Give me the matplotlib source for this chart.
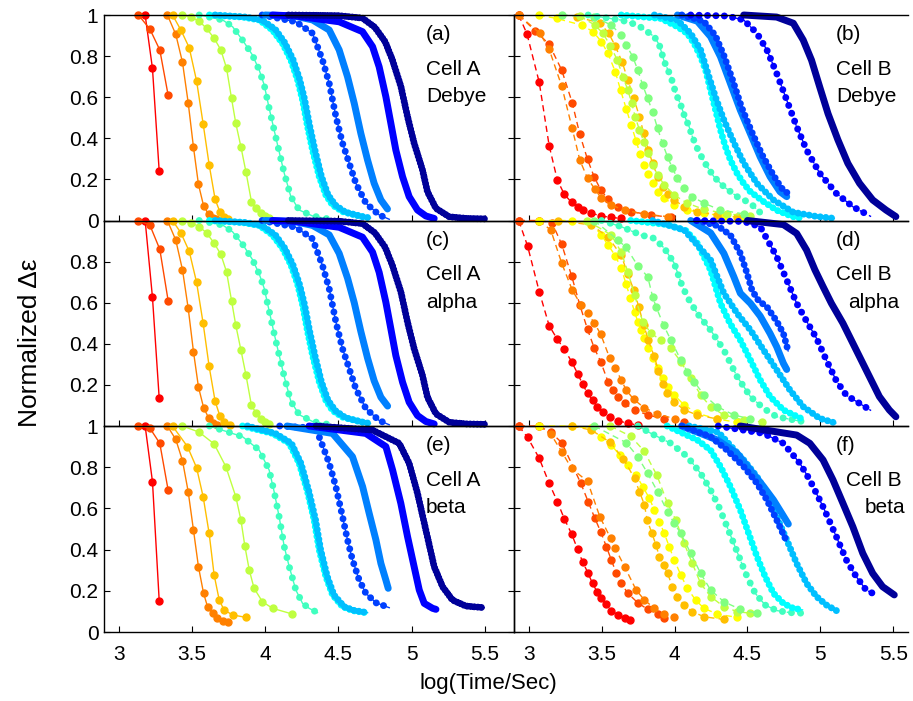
import matplotlib
matplotlib.use("Agg")
import matplotlib.pyplot as plt
from matplotlib.ticker import FuncFormatter

plt.rcParams['font.family'] = ['Liberation Sans', 'DejaVu Sans']

# ---------------- data (log10 time, normalized value) ----------------
# Cell A, Debye
a_x = [
    [3.181, 3.231, 3.277],
    [3.135, 3.213, 3.281, 3.338],
    [3.333, 3.390, 3.436, 3.475, 3.511, 3.545, 3.580, 3.614, 3.645, 3.665],
    [3.368, 3.425, 3.482, 3.532, 3.577, 3.618, 3.659, 3.691, 3.720, 3.750],
    [3.436, 3.493, 3.550, 3.600, 3.652, 3.698, 3.737, 3.771, 3.800, 3.835, 3.869, 3.907, 3.937, 3.970, 4.000, 4.030],
    [3.550, 3.710, 3.778, 3.846, 3.914, 3.960, 3.994, 4.028, 4.062, 4.096, 4.131, 4.176, 4.233, 4.324, 4.430],
    [3.620, 3.846, 3.960, 4.050, 4.119, 4.176, 4.222, 4.256, 4.290, 4.324, 4.370, 4.415, 4.461, 4.530, 4.643, 4.690],
    [3.660, 3.870, 3.980, 4.070, 4.135, 4.190, 4.235, 4.270, 4.305, 4.340, 4.385, 4.430, 4.480, 4.550, 4.670, 4.720],
    [3.980, 4.210, 4.324, 4.392, 4.438, 4.484, 4.529, 4.575, 4.620, 4.689, 4.779, 4.848],
    [4.000, 4.200, 4.324, 4.438, 4.506, 4.563, 4.609, 4.654, 4.700, 4.745, 4.791, 4.836],
    [4.050, 4.210, 4.506, 4.665, 4.734, 4.779, 4.825, 4.859, 4.893, 4.939, 4.984, 5.041, 5.098, 5.155],
    [4.160, 4.500, 4.665, 4.750, 4.820, 4.870, 4.928, 4.973, 5.018, 5.075, 5.109, 5.167, 5.258, 5.380, 5.508],
]
a_y = [
    [1.0, 0.74, 0.24],
    [1.0, 0.932, 0.83, 0.61],
    [1.0, 0.906, 0.77, 0.573, 0.357, 0.176, 0.072, 0.03, 0.01, 0.005],
    [1.0, 0.927, 0.841, 0.68, 0.471, 0.272, 0.103, 0.043, 0.015, 0.005],
    [1.0, 0.99, 0.97, 0.935, 0.887, 0.83, 0.741, 0.594, 0.473, 0.359, 0.238, 0.092, 0.06, 0.035, 0.02, 0.01],
    [1.0, 0.976, 0.943, 0.878, 0.805, 0.732, 0.66, 0.546, 0.44, 0.335, 0.23, 0.116, 0.051, 0.022, 0.008],
    [1.0, 0.99, 0.976, 0.927, 0.862, 0.781, 0.684, 0.586, 0.457, 0.343, 0.213, 0.124, 0.075, 0.043, 0.022, 0.015],
    [1.0, 0.99, 0.975, 0.93, 0.865, 0.785, 0.69, 0.59, 0.46, 0.345, 0.215, 0.125, 0.075, 0.04, 0.018, 0.012],
    [1.0, 0.967, 0.911, 0.781, 0.668, 0.505, 0.376, 0.278, 0.181, 0.084, 0.027, 0.006],
    [1.0, 0.995, 0.976, 0.927, 0.83, 0.70, 0.57, 0.424, 0.294, 0.181, 0.10, 0.056],
    [1.0, 0.995, 0.967, 0.919, 0.846, 0.748, 0.602, 0.473, 0.343, 0.213, 0.116, 0.051, 0.022, 0.01],
    [1.0, 0.997, 0.985, 0.94, 0.87, 0.781, 0.651, 0.505, 0.376, 0.246, 0.14, 0.059, 0.018, 0.01, 0.008],
]

# Cell A, alpha
c_x = [
    [3.181, 3.231, 3.277],
    [3.135, 3.213, 3.281, 3.338],
    [3.333, 3.390, 3.436, 3.475, 3.511, 3.545, 3.580, 3.614, 3.645, 3.670],
    [3.368, 3.425, 3.482, 3.532, 3.577, 3.618, 3.659, 3.691, 3.720, 3.760],
    [3.436, 3.493, 3.550, 3.600, 3.652, 3.698, 3.737, 3.771, 3.800, 3.835, 3.869, 3.907, 3.937, 3.970, 4.000, 4.030],
    [3.550, 3.710, 3.778, 3.846, 3.914, 3.960, 3.994, 4.028, 4.062, 4.096, 4.131, 4.176, 4.233, 4.324, 4.430],
    [3.620, 3.846, 3.960, 4.050, 4.119, 4.176, 4.222, 4.256, 4.290, 4.324, 4.370, 4.415, 4.461, 4.530, 4.643, 4.690],
    [3.660, 3.870, 3.980, 4.070, 4.135, 4.190, 4.235, 4.270, 4.305, 4.340, 4.385, 4.430, 4.480, 4.550, 4.670, 4.720],
    [3.980, 4.210, 4.324, 4.392, 4.438, 4.484, 4.529, 4.575, 4.620, 4.689, 4.779, 4.848],
    [4.000, 4.200, 4.324, 4.438, 4.506, 4.563, 4.609, 4.654, 4.700, 4.745, 4.791, 4.837],
    [4.050, 4.210, 4.506, 4.665, 4.734, 4.779, 4.825, 4.859, 4.893, 4.939, 4.984, 5.041, 5.098, 5.155],
    [4.160, 4.500, 4.665, 4.750, 4.820, 4.870, 4.928, 4.973, 5.018, 5.075, 5.109, 5.167, 5.258, 5.380, 5.508],
]
c_y = [
    [1.0, 0.626, 0.135],
    [1.0, 0.978, 0.86, 0.61],
    [1.0, 0.905, 0.76, 0.573, 0.362, 0.19, 0.09, 0.04, 0.015, 0.005],
    [1.0, 0.94, 0.85, 0.70, 0.50, 0.29, 0.12, 0.05, 0.02, 0.005],
    [1.0, 0.99, 0.97, 0.94, 0.89, 0.835, 0.75, 0.61, 0.49, 0.37, 0.25, 0.10, 0.065, 0.035, 0.02, 0.01],
    [1.0, 0.978, 0.945, 0.885, 0.81, 0.74, 0.67, 0.56, 0.45, 0.345, 0.24, 0.12, 0.055, 0.022, 0.008],
    [1.0, 0.99, 0.976, 0.93, 0.865, 0.785, 0.69, 0.59, 0.46, 0.345, 0.215, 0.125, 0.075, 0.043, 0.022, 0.015],
    [1.0, 0.99, 0.975, 0.93, 0.865, 0.785, 0.69, 0.59, 0.46, 0.345, 0.215, 0.125, 0.075, 0.04, 0.018, 0.012],
    [1.0, 0.967, 0.911, 0.781, 0.668, 0.505, 0.376, 0.278, 0.181, 0.084, 0.027, 0.006],
    [1.0, 0.995, 0.976, 0.93, 0.84, 0.72, 0.60, 0.46, 0.33, 0.22, 0.14, 0.097],
    [1.0, 0.995, 0.967, 0.919, 0.846, 0.748, 0.602, 0.473, 0.343, 0.213, 0.116, 0.051, 0.022, 0.01],
    [1.0, 0.997, 0.985, 0.94, 0.87, 0.781, 0.651, 0.505, 0.376, 0.246, 0.14, 0.059, 0.018, 0.01, 0.008],
]

# Cell A, beta
e_x = [
    [3.181, 3.231, 3.277],
    [3.135, 3.213, 3.281, 3.338],
    [3.333, 3.390, 3.436, 3.475, 3.511, 3.545, 3.580, 3.607, 3.641, 3.675, 3.710, 3.744],
    [3.368, 3.470, 3.532, 3.577, 3.618, 3.652, 3.687, 3.720, 3.778, 3.869],
    [3.436, 3.550, 3.652, 3.732, 3.800, 3.835, 3.862, 3.892, 3.925, 3.982, 4.051, 4.187],
    [3.620, 3.846, 3.960, 4.028, 4.062, 4.096, 4.131, 4.165, 4.210, 4.256, 4.301, 4.358],
    [3.846, 4.051, 4.165, 4.233, 4.290, 4.335, 4.370, 4.415, 4.461, 4.529, 4.597, 4.688],
    [3.880, 4.070, 4.180, 4.245, 4.300, 4.345, 4.380, 4.425, 4.470, 4.540, 4.610, 4.700],
    [4.100, 4.347, 4.438, 4.483, 4.529, 4.563, 4.597, 4.643, 4.688, 4.757, 4.848],
    [4.150, 4.461, 4.597, 4.666, 4.711, 4.757, 4.791, 4.825, 4.841],
    [4.300, 4.688, 4.825, 4.871, 4.927, 4.973, 5.018, 5.053, 5.087, 5.144, 5.167],
    [4.350, 4.734, 4.916, 4.984, 5.041, 5.098, 5.155, 5.212, 5.280, 5.371, 5.496],
]
e_y = [
    [1.0, 0.73, 0.152],
    [1.0, 0.99, 0.916, 0.689],
    [1.0, 0.935, 0.832, 0.681, 0.495, 0.317, 0.188, 0.123, 0.091, 0.066, 0.053, 0.047],
    [1.0, 0.90, 0.798, 0.657, 0.479, 0.277, 0.155, 0.107, 0.083, 0.071],
    [1.0, 0.97, 0.913, 0.803, 0.657, 0.544, 0.417, 0.301, 0.212, 0.147, 0.115, 0.087],
    [1.0, 0.948, 0.883, 0.786, 0.681, 0.56, 0.414, 0.317, 0.204, 0.139, 0.115, 0.094],
    [1.0, 0.964, 0.916, 0.819, 0.681, 0.544, 0.398, 0.269, 0.18, 0.123, 0.104, 0.094],
    [1.0, 0.964, 0.916, 0.819, 0.681, 0.544, 0.398, 0.269, 0.18, 0.123, 0.104, 0.094],
    [1.0, 0.99, 0.819, 0.706, 0.56, 0.447, 0.35, 0.252, 0.188, 0.142, 0.118],
    [1.0, 0.964, 0.851, 0.706, 0.576, 0.447, 0.333, 0.252, 0.212],
    [1.0, 0.964, 0.90, 0.786, 0.625, 0.463, 0.317, 0.204, 0.139, 0.115, 0.11],
    [1.0, 0.98, 0.916, 0.819, 0.673, 0.495, 0.317, 0.22, 0.155, 0.126, 0.118],
]

# Cell B, Debye
b_x = [
    [2.932, 2.989, 3.073, 3.141, 3.197, 3.245, 3.295, 3.340, 3.374, 3.431, 3.499, 3.567, 3.635],
    [2.932, 3.045, 3.141, 3.227, 3.299, 3.351, 3.404, 3.449, 3.495, 3.545, 3.612, 3.703, 3.839, 3.975],
    [2.932, 3.079, 3.141, 3.227, 3.299, 3.351, 3.404, 3.454, 3.499, 3.567, 3.658, 3.794, 3.952],
    [3.068, 3.193, 3.363, 3.442, 3.499, 3.544, 3.594, 3.630, 3.669, 3.703, 3.737, 3.764, 3.794, 3.821, 3.850, 3.884, 3.930, 3.998, 4.088, 4.202, 4.338, 4.474],
    [3.330, 3.488, 3.549, 3.594, 3.642, 3.680, 3.721, 3.760, 3.789, 3.821, 3.850, 3.884, 3.918, 3.952, 3.998, 4.066, 4.156, 4.293, 4.429],
    [3.350, 3.454, 3.510, 3.560, 3.608, 3.646, 3.680, 3.707, 3.730, 3.760, 3.789, 3.816, 3.850, 3.884, 3.930, 3.998, 4.088, 4.202, 4.360, 4.520],
    [3.227, 3.450, 3.567, 3.635, 3.669, 3.714, 3.748, 3.782, 3.816, 3.850, 3.884, 3.918, 3.952, 3.986, 4.020, 4.066, 4.122, 4.202, 4.315, 4.474],
    [3.408, 3.635, 3.748, 3.805, 3.862, 3.896, 3.930, 3.975, 4.009, 4.043, 4.066, 4.100, 4.122, 4.156, 4.190, 4.224, 4.270, 4.338, 4.429, 4.520, 4.600],
    [3.635, 3.907, 4.020, 4.088, 4.134, 4.179, 4.213, 4.247, 4.281, 4.315, 4.349, 4.383, 4.429, 4.474, 4.520, 4.610, 4.700, 4.810, 4.880],
    [3.862, 4.020, 4.111, 4.179, 4.236, 4.281, 4.338, 4.406, 4.474, 4.565, 4.678, 4.814, 4.970, 5.100],
    [4.020, 4.156, 4.247, 4.315, 4.383, 4.451, 4.519, 4.587, 4.655, 4.723, 4.769],
    [4.050, 4.200, 4.280, 4.340, 4.400, 4.460, 4.530, 4.600, 4.670, 4.730, 4.780],
    [4.111, 4.360, 4.474, 4.565, 4.633, 4.700, 4.769, 4.837, 4.905, 4.995, 5.109, 5.222, 5.347],
    [4.474, 4.700, 4.814, 4.882, 4.939, 4.995, 5.052, 5.120, 5.188, 5.268, 5.358, 5.449, 5.517],
]
b_y = [
    [1.0, 0.908, 0.672, 0.364, 0.197, 0.127, 0.088, 0.067, 0.051, 0.035, 0.022, 0.015, 0.01],
    [1.0, 0.924, 0.857, 0.732, 0.573, 0.419, 0.297, 0.213, 0.148, 0.103, 0.067, 0.043, 0.027, 0.015],
    [1.0, 0.91, 0.833, 0.654, 0.448, 0.294, 0.205, 0.153, 0.108, 0.075, 0.05, 0.031, 0.019],
    [1.0, 0.983, 0.951, 0.919, 0.87, 0.813, 0.724, 0.635, 0.544, 0.465, 0.387, 0.324, 0.27, 0.226, 0.181, 0.14, 0.108, 0.075, 0.051, 0.035, 0.022, 0.015],
    [0.99, 0.962, 0.911, 0.849, 0.77, 0.684, 0.594, 0.505, 0.424, 0.343, 0.278, 0.213, 0.165, 0.129, 0.1, 0.067, 0.043, 0.027, 0.019],
    [0.995, 0.951, 0.911, 0.85, 0.781, 0.70, 0.635, 0.57, 0.505, 0.44, 0.384, 0.327, 0.27, 0.222, 0.173, 0.124, 0.084, 0.054, 0.032, 0.022],
    [1.0, 0.99, 0.951, 0.902, 0.854, 0.797, 0.732, 0.659, 0.594, 0.529, 0.448, 0.375, 0.31, 0.254, 0.205, 0.157, 0.116, 0.084, 0.051, 0.032],
    [1.0, 0.975, 0.951, 0.923, 0.894, 0.854, 0.773, 0.70, 0.619, 0.562, 0.513, 0.457, 0.408, 0.351, 0.303, 0.262, 0.213, 0.165, 0.116, 0.084, 0.03],
    [1.0, 0.983, 0.943, 0.91, 0.862, 0.797, 0.732, 0.635, 0.538, 0.44, 0.359, 0.294, 0.229, 0.18, 0.14, 0.092, 0.05, 0.019, 0.01],
    [1.0, 0.975, 0.91, 0.83, 0.70, 0.60, 0.49, 0.38, 0.28, 0.18, 0.10, 0.04, 0.02, 0.01],
    [1.0, 0.97, 0.895, 0.797, 0.667, 0.537, 0.424, 0.31, 0.213, 0.14, 0.116],
    [1.0, 0.97, 0.90, 0.80, 0.68, 0.55, 0.43, 0.32, 0.23, 0.16, 0.13],
    [1.0, 0.995, 0.976, 0.911, 0.83, 0.716, 0.586, 0.457, 0.343, 0.23, 0.132, 0.067, 0.019],
    [1.0, 0.99, 0.96, 0.878, 0.78, 0.65, 0.52, 0.392, 0.278, 0.181, 0.10, 0.051, 0.019],
]

# Cell B, alpha
d_x = [
    [2.932, 2.993, 3.073, 3.141, 3.197, 3.245, 3.295, 3.336, 3.370, 3.404, 3.438, 3.472, 3.510, 3.556, 3.612, 3.680, 3.748],
    [2.932, 3.068, 3.160, 3.227, 3.295, 3.351, 3.404, 3.449, 3.494, 3.544, 3.578, 3.612, 3.658, 3.726, 3.816, 3.930, 4.066],
    [3.068, 3.152, 3.227, 3.299, 3.358, 3.404, 3.449, 3.494, 3.556, 3.594, 3.635, 3.669, 3.720, 3.790, 3.880, 4.000],
    [3.068, 3.295, 3.431, 3.499, 3.544, 3.594, 3.635, 3.669, 3.698, 3.726, 3.748, 3.771, 3.794, 3.821, 3.850, 3.884, 3.918, 3.952, 3.998, 4.066, 4.156, 4.293, 4.429],
    [3.200, 3.431, 3.544, 3.635, 3.680, 3.721, 3.755, 3.789, 3.820, 3.860, 3.890, 3.918, 3.950, 3.998, 4.066, 4.156, 4.293],
    [3.400, 3.567, 3.635, 3.680, 3.726, 3.782, 3.839, 3.907, 3.975, 4.043, 4.111, 4.179, 4.247, 4.338, 4.474, 4.600],
    [3.450, 3.612, 3.669, 3.748, 3.816, 3.850, 3.873, 3.925, 3.975, 4.043, 4.088, 4.134, 4.202, 4.293, 4.406, 4.520],
    [3.500, 3.635, 3.771, 3.862, 3.930, 3.998, 4.054, 4.100, 4.156, 4.247, 4.338, 4.429, 4.520, 4.610, 4.700, 4.882],
    [3.700, 3.950, 4.080, 4.156, 4.247, 4.315, 4.380, 4.451, 4.520, 4.587, 4.655, 4.746, 4.882],
    [3.850, 4.066, 4.247, 4.338, 4.429, 4.520, 4.610, 4.700, 4.791, 4.882, 4.995, 5.109],
    [4.111, 4.247, 4.338, 4.406, 4.451, 4.520, 4.587, 4.655, 4.700, 4.746, 4.769],
    [4.156, 4.293, 4.383, 4.451, 4.497, 4.531, 4.576, 4.633, 4.700, 4.746, 4.780],
    [4.150, 4.474, 4.587, 4.700, 4.769, 4.837, 4.905, 4.973, 5.041, 5.109, 5.177, 5.268, 5.347],
    [4.500, 4.746, 4.837, 4.905, 4.962, 5.018, 5.075, 5.154, 5.245, 5.336, 5.404, 5.472, 5.517],
]
d_y = [
    [1.0, 0.876, 0.654, 0.488, 0.422, 0.373, 0.313, 0.255, 0.204, 0.159, 0.127, 0.091, 0.067, 0.045, 0.026, 0.013, 0.005],
    [1.0, 1.0, 0.99, 0.884, 0.73, 0.589, 0.47, 0.381, 0.313, 0.216, 0.175, 0.143, 0.11, 0.078, 0.054, 0.034, 0.018],
    [1.0, 0.954, 0.792, 0.662, 0.59, 0.548, 0.503, 0.447, 0.33, 0.283, 0.224, 0.175, 0.13, 0.09, 0.06, 0.035],
    [1.0, 1.0, 0.986, 0.929, 0.881, 0.829, 0.767, 0.689, 0.621, 0.556, 0.508, 0.467, 0.427, 0.378, 0.329, 0.281, 0.232, 0.191, 0.151, 0.102, 0.062, 0.034, 0.018],
    [1.0, 0.978, 0.92, 0.83, 0.738, 0.662, 0.58, 0.491, 0.42, 0.34, 0.27, 0.204, 0.16, 0.118, 0.078, 0.054, 0.034],
    [1.0, 0.929, 0.846, 0.75, 0.637, 0.508, 0.451, 0.418, 0.378, 0.313, 0.232, 0.151, 0.094, 0.054, 0.029, 0.02],
    [1.0, 0.905, 0.869, 0.78, 0.727, 0.629, 0.581, 0.491, 0.418, 0.321, 0.264, 0.216, 0.151, 0.094, 0.054, 0.034],
    [1.0, 0.97, 0.929, 0.913, 0.865, 0.792, 0.678, 0.613, 0.548, 0.467, 0.37, 0.24, 0.143, 0.086, 0.045, 0.021],
    [1.0, 0.98, 0.95, 0.889, 0.759, 0.597, 0.50, 0.418, 0.321, 0.224, 0.143, 0.078, 0.032],
    [1.0, 0.954, 0.808, 0.646, 0.548, 0.467, 0.37, 0.273, 0.175, 0.094, 0.037, 0.013],
    [1.0, 0.94, 0.84, 0.727, 0.646, 0.597, 0.535, 0.45, 0.386, 0.305, 0.275],
    [1.0, 0.975, 0.929, 0.84, 0.743, 0.66, 0.61, 0.58, 0.51, 0.45, 0.362],
    [1.0, 0.995, 0.97, 0.824, 0.71, 0.597, 0.51, 0.427, 0.32, 0.22, 0.15, 0.11, 0.075],
    [1.0, 0.98, 0.937, 0.856, 0.76, 0.678, 0.597, 0.50, 0.37, 0.24, 0.143, 0.078, 0.045],
]

# Cell B, beta
f_x = [
    [2.932, 2.993, 3.073, 3.141, 3.197, 3.245, 3.295, 3.336, 3.370, 3.408, 3.438, 3.469, 3.499, 3.528, 3.567, 3.612, 3.658, 3.692],
    [2.932, 3.068, 3.152, 3.227, 3.358, 3.408, 3.454, 3.494, 3.533, 3.567, 3.601, 3.635, 3.680, 3.748, 3.816, 3.884, 3.930],
    [3.068, 3.152, 3.227, 3.295, 3.404, 3.488, 3.562, 3.594, 3.658, 3.737, 3.794, 3.862, 3.930, 3.998],
    [3.068, 3.295, 3.431, 3.499, 3.567, 3.624, 3.680, 3.737, 3.782, 3.828, 3.862, 3.896, 3.930, 3.964, 3.998, 4.043, 4.088, 4.145, 4.202, 4.293, 4.429],
    [3.300, 3.431, 3.560, 3.650, 3.726, 3.760, 3.794, 3.812, 3.845, 3.873, 3.896, 3.925, 3.952, 3.986, 4.020, 4.066, 4.122, 4.202, 4.338],
    [3.560, 3.700, 3.790, 3.880, 3.952, 4.009, 4.066, 4.122, 4.179, 4.247, 4.338, 4.429, 4.520],
    [3.450, 3.669, 3.748, 3.816, 3.884, 3.952, 3.998, 4.043, 4.111, 4.179, 4.247, 4.338, 4.451, 4.565],
    [3.750, 3.839, 3.975, 4.088, 4.179, 4.247, 4.304, 4.360, 4.406, 4.451, 4.497, 4.553, 4.621, 4.700, 4.791, 4.882],
    [3.950, 4.156, 4.247, 4.315, 4.383, 4.451, 4.508, 4.565, 4.621, 4.678, 4.746, 4.814, 4.882],
    [4.100, 4.300, 4.474, 4.565, 4.633, 4.700, 4.769, 4.837, 4.905, 4.973, 5.041, 5.109],
    [4.050, 4.293, 4.429, 4.520, 4.610, 4.678, 4.735, 4.780],
    [4.050, 4.247, 4.360, 4.474, 4.565, 4.633, 4.700, 4.769],
    [4.300, 4.610, 4.746, 4.859, 4.927, 5.018, 5.109, 5.177, 5.245, 5.313, 5.358],
    [4.450, 4.837, 4.927, 5.018, 5.086, 5.154, 5.222, 5.290, 5.358, 5.426, 5.506],
]
f_y = [
    [1.0, 0.945, 0.843, 0.722, 0.633, 0.549, 0.476, 0.401, 0.341, 0.285, 0.236, 0.196, 0.163, 0.136, 0.104, 0.083, 0.066, 0.058],
    [1.0, 1.0, 0.97, 0.919, 0.722, 0.633, 0.552, 0.487, 0.414, 0.35, 0.285, 0.236, 0.188, 0.142, 0.11, 0.087, 0.066],
    [1.0, 0.961, 0.875, 0.794, 0.731, 0.56, 0.455, 0.406, 0.317, 0.204, 0.155, 0.115, 0.087, 0.074],
    [1.0, 1.0, 0.989, 0.945, 0.908, 0.859, 0.811, 0.762, 0.706, 0.649, 0.592, 0.536, 0.479, 0.414, 0.35, 0.277, 0.212, 0.155, 0.115, 0.087, 0.071],
    [1.0, 0.98, 0.92, 0.84, 0.746, 0.681, 0.617, 0.544, 0.48, 0.422, 0.366, 0.325, 0.285, 0.22, 0.172, 0.131, 0.099, 0.074, 0.061],
    [1.0, 0.95, 0.88, 0.76, 0.625, 0.544, 0.43, 0.333, 0.236, 0.172, 0.123, 0.099, 0.091],
    [1.0, 0.919, 0.851, 0.77, 0.681, 0.584, 0.528, 0.479, 0.382, 0.285, 0.204, 0.147, 0.11, 0.091],
    [1.0, 0.964, 0.916, 0.851, 0.77, 0.689, 0.608, 0.511, 0.43, 0.35, 0.269, 0.188, 0.131, 0.104, 0.094, 0.091],
    [1.0, 0.932, 0.883, 0.803, 0.706, 0.592, 0.479, 0.366, 0.269, 0.188, 0.139, 0.115, 0.107],
    [1.0, 0.97, 0.835, 0.754, 0.673, 0.56, 0.447, 0.333, 0.236, 0.172, 0.131, 0.104],
    [1.0, 0.932, 0.867, 0.786, 0.706, 0.641, 0.576, 0.524],
    [1.0, 0.948, 0.883, 0.803, 0.722, 0.641, 0.544, 0.439],
    [1.0, 0.964, 0.916, 0.819, 0.738, 0.608, 0.463, 0.35, 0.269, 0.204, 0.188],
    [1.0, 0.956, 0.916, 0.835, 0.738, 0.625, 0.511, 0.382, 0.285, 0.22, 0.18],
]

# ---------------- styles ----------------
RED, ORED, ORANGE, AMBER, YELLOW = '#ff0000', '#ff4a00', '#ff8000', '#ffbf00', '#ffff00'
YGREEN, LGREEN, AQUA, CYAN, SKY = '#bfff40', '#80ff80', '#40ffbf', '#00ffff', '#00bfff'
AZURE, BLUE2, BLUE, NAVY = '#0080ff', '#0040ff', '#0000ff', '#000099'

left_cols = [RED, ORED, ORANGE, AMBER, YGREEN, AQUA, CYAN, SKY, BLUE2, AZURE, BLUE, NAVY]
right_cols = [RED, ORED, ORANGE, YELLOW, AMBER, YGREEN, LGREEN, AQUA, CYAN, SKY, AZURE, BLUE2, BLUE, NAVY]
# None: markers at points, 0: solid thick, >0: bead spacing
left_gaps = [None, None, None, None, None, 1.5, 0.7, 0.7, 1.1, 0, 0, 0.5]
right_gaps = [None, None, None, None, None, None, None, 1.3, 0.8, 0.8, 0, 0.9, 1.2, 0]

MS = 5.0

fig = plt.figure(figsize=(9.13, 7.01), dpi=100)
W, H = 913, 701
rows = [(15, 220.5), (220.5, 426), (426, 632)]
cols = [(104, 514), (514, 908)]

panels = [
    (0, 0, a_x, a_y, '(a)', 'Cell A', 'Debye'),
    (0, 1, b_x, b_y, '(b)', 'Cell B', 'Debye'),
    (1, 0, c_x, c_y, '(c)', 'Cell A', 'alpha'),
    (1, 1, d_x, d_y, '(d)', 'Cell B', 'alpha'),
    (2, 0, e_x, e_y, '(e)', 'Cell A', 'beta'),
    (2, 1, f_x, f_y, '(f)', 'Cell B', 'beta'),
]
text_x = {'(a)': [0.785] * 3, '(c)': [0.785] * 3, '(e)': [0.785] * 3,
          '(b)': [0.817] * 3, '(d)': [0.817, 0.817, 0.848], '(f)': [0.817, 0.843, 0.891]}

for r, cidx, xs, ys, lab, cell, model in panels:
    top, bot = rows[r]
    x0, x1 = cols[cidx]
    ax = fig.add_axes([x0 / W, 1 - bot / H, (x1 - x0) / W, (bot - top) / H])
    ax.patch.set_visible(False)
    right = cidx == 1
    colors = right_cols if right else left_cols
    gaps = right_gaps if right else left_gaps
    ls = (0, (4.5, 3)) if right else '-'
    for x, y, col, g in zip(xs, ys, colors, gaps):
        if g is None:
            ax.plot(x, y, color=col, lw=1.0, ls=ls, marker='o', ms=MS, mec=col, mfc=col,
                    clip_on=False, zorder=2)
        else:
            ax.plot(x, y, color=col, lw=1.0, ls=ls, clip_on=False, zorder=2)
            if g == 0:
                ax.plot(x, y, color=col, lw=MS, solid_capstyle='round',
                        solid_joinstyle='round', clip_on=False, zorder=2)
            else:
                ax.plot(x, y, color=col, lw=MS, ls=(0, (0.01, g)),
                        dash_capstyle='round', clip_on=False, zorder=2)

    ax.set_xlim(2.9, 5.6 if right else 5.7)
    ax.set_ylim(0, 1)
    ax.set_xticks([3, 3.5, 4, 4.5, 5, 5.5])
    if r == 1:
        ax.set_yticks([0.2, 0.4, 0.6, 0.8])
    else:
        ax.set_yticks([0, 0.2, 0.4, 0.6, 0.8, 1])
    fmt = FuncFormatter(lambda v, p: f'{v:g}')
    ax.xaxis.set_major_formatter(fmt)
    ax.yaxis.set_major_formatter(fmt)
    ax.tick_params(direction='in', length=4, width=0.8, labelsize=15,
                   top=False, bottom=True, left=True, right=not right,
                   labelleft=not right, labelbottom=(r == 2), pad=4)
    ax.tick_params(axis='x', pad=9)
    for s in ax.spines.values():
        s.set_linewidth(1.0)
        s.set_zorder(3)
    if right:
        ax.spines['right'].set_visible(False)

    tx = text_x[lab]
    ax.text(tx[0], 1 - 25 / 205.5, lab, transform=ax.transAxes, fontsize=15, ha='left', va='baseline')
    ax.text(tx[1], 1 - 60 / 205.5, cell, transform=ax.transAxes, fontsize=15, ha='left', va='baseline')
    ax.text(tx[2], 1 - 87 / 205.5, model, transform=ax.transAxes, fontsize=15, ha='left', va='baseline')

fig.text(30 / W, 1 - 343 / H, 'Normalized Δε', rotation=90, ha='center', va='center', fontsize=19)
fig.text(488 / W, 1 - 684 / H, 'log(Time/Sec)', ha='center', va='center', fontsize=16)

fig.savefig('out.png', dpi=100, facecolor='white')
